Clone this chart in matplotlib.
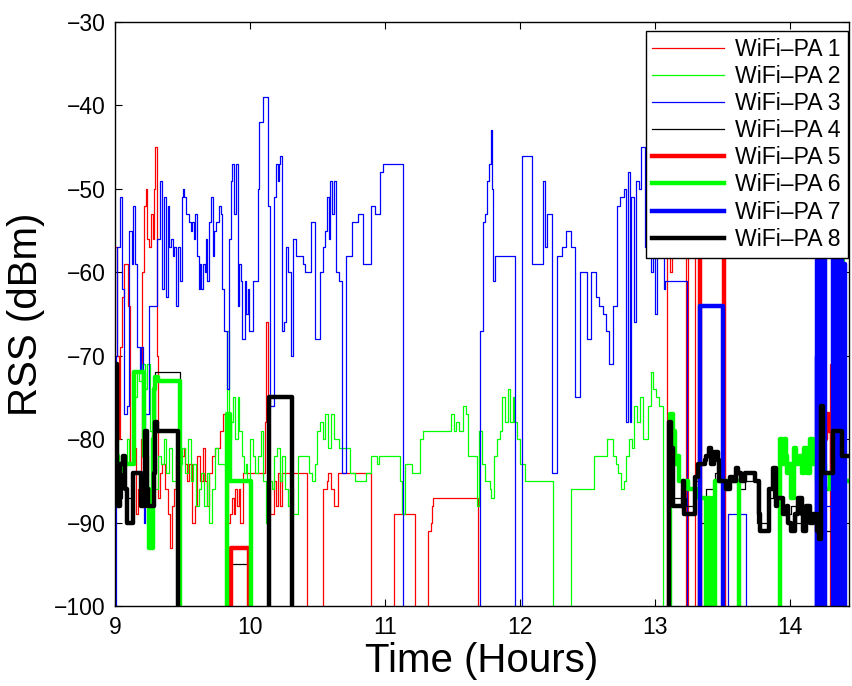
import matplotlib
matplotlib.use("Agg")
import matplotlib.pyplot as plt
import numpy as np

plt.rcParams['font.family'] = ['Liberation Sans', 'DejaVu Sans']

# (time in hours, RSS in dBm); -120 = no signal (below the axis)
pa1 = [(9.00, -57), (9.015, -70), (9.03, -80), (9.04, -69), (9.055, -63), (9.07, -59), (9.085, -59),
       (9.095, -64), (9.11, -83), (9.13, -83), (9.14, -81), (9.155, -89), (9.17, -86), (9.19, -80),
       (9.20, -60), (9.215, -52), (9.23, -50), (9.24, -56), (9.25, -57), (9.27, -53), (9.28, -56),
       (9.29, -50), (9.30, -45), (9.31, -70), (9.32, -87), (9.335, -84), (9.35, -83), (9.37, -86),
       (9.39, -89), (9.41, -93), (9.425, -88), (9.44, -86), (9.45, -82), (9.47, -84), (9.49, -82),
       (9.51, -81), (9.52, -83), (9.535, -85), (9.55, -83), (9.57, -90), (9.59, -88), (9.61, -82),
       (9.63, -85), (9.65, -81), (9.67, -85), (9.685, -88), (9.70, -84), (9.72, -82), (9.74, -81),
       (9.78, -79), (9.80, -77), (9.82, -83), (9.835, -90), (9.85, -89), (9.865, -87), (9.88, -89),
       (9.89, -86), (9.905, -88), (9.92, -86), (9.93, -90), (9.95, -84), (10.11, -78), (10.12, -66),
       (10.135, -86), (10.15, -89), (10.18, -85), (10.195, -88), (10.21, -84), (10.22, -88),
       (10.235, -84), (10.42, -120), (10.54, -86), (10.57, -85), (10.58, -84), (10.60, -86),
       (10.62, -88), (10.65, -84), (10.90, -120), (11.07, -89), (11.22, -120), (11.32, -91),
       (11.34, -90), (11.35, -88), (11.36, -87), (11.69, -120), (13.09, -56), (13.11, -60),
       (13.13, -57), (13.235, -120), (13.245, -56), (13.30, -120), (14.255, -62), (14.265, -120),
       (14.30, -71), (14.315, -120), (14.44, -120)]

pa2 = [(9.00, -85), (9.01, -79), (9.02, -83), (9.035, -86), (9.05, -83), (9.09, -80), (9.105, -83),
       (9.14, -75), (9.16, -72), (9.18, -73), (9.20, -71), (9.22, -74), (9.24, -71), (9.26, -79),
       (9.28, -84), (9.30, -86), (9.32, -82), (9.34, -83), (9.36, -80), (9.38, -84), (9.40, -81),
       (9.42, -85), (9.46, -81), (9.48, -83), (9.50, -81), (9.52, -84), (9.54, -80), (9.56, -85),
       (9.58, -83), (9.60, -88), (9.62, -86), (9.64, -84), (9.66, -88), (9.68, -84), (9.70, -90),
       (9.72, -86), (9.74, -81), (9.76, -83), (9.83, -67), (9.845, -80), (9.86, -78), (9.875, -75),
       (9.89, -80), (9.91, -75), (9.92, -79), (9.94, -82), (9.955, -84), (9.97, -83), (9.98, -85),
       (10.00, -80), (10.02, -82), (10.04, -84), (10.06, -82), (10.08, -79), (10.10, -85),
       (10.12, -90), (10.14, -85), (10.16, -86), (10.18, -82), (10.20, -81), (10.22, -85),
       (10.24, -82), (10.26, -86), (10.28, -88), (10.30, -86), (10.32, -89), (10.36, -82),
       (10.44, -84), (10.46, -85), (10.48, -83), (10.50, -79), (10.52, -78), (10.54, -80),
       (10.56, -77), (10.58, -81), (10.60, -77), (10.62, -80), (10.66, -81), (10.74, -84),
       (10.78, -85), (10.86, -84), (10.90, -82), (10.94, -83), (10.96, -82), (11.11, -85),
       (11.13, -89), (11.15, -83), (11.20, -84), (11.26, -80), (11.28, -79), (11.49, -77),
       (11.51, -79), (11.53, -78), (11.55, -79), (11.58, -76), (11.60, -77), (11.62, -82),
       (11.68, -88), (11.70, -79), (11.72, -83), (11.74, -85), (11.78, -86), (11.79, -87),
       (11.81, -82), (11.83, -80), (11.85, -79), (11.87, -75), (11.89, -78), (11.91, -74),
       (11.93, -78), (11.95, -75), (11.96, -78), (11.98, -80), (12.00, -83), (12.04, -85),
       (12.25, -120), (12.38, -86), (12.55, -82), (12.65, -80), (12.69, -82), (12.71, -83),
       (12.73, -84), (12.75, -86), (12.77, -85), (12.79, -82), (12.81, -80), (12.83, -81),
       (12.85, -76), (12.87, -78), (12.89, -75), (12.91, -80), (12.95, -76), (12.97, -72),
       (12.99, -74), (13.01, -75), (13.03, -76), (13.065, -120), (14.235, -57), (14.40, -85),
       (14.44, -85)]

pa3 = [(9.00, -120), (9.005, -70), (9.015, -57), (9.035, -51), (9.055, -62), (9.07, -77), (9.09, -76),
       (9.105, -55), (9.125, -59), (9.135, -52), (9.15, -59), (9.165, -69), (9.185, -72), (9.195, -69),
       (9.205, -72), (9.215, -90), (9.225, -77), (9.25, -64), (9.315, -56), (9.33, -49), (9.35, -62),
       (9.36, -51), (9.375, -63), (9.39, -52), (9.40, -57), (9.415, -56), (9.43, -58), (9.44, -57),
       (9.455, -64), (9.465, -57), (9.48, -61), (9.495, -51), (9.505, -50), (9.515, -51), (9.525, -53),
       (9.545, -54), (9.56, -55), (9.57, -54), (9.585, -56), (9.595, -53), (9.61, -58), (9.62, -62),
       (9.63, -59), (9.64, -62), (9.65, -59), (9.665, -60), (9.675, -56), (9.685, -61), (9.70, -54),
       (9.71, -51), (9.725, -58), (9.735, -55), (9.75, -54), (9.77, -52), (9.785, -53), (9.795, -62),
       (9.81, -67), (9.83, -74), (9.845, -56), (9.86, -49), (9.87, -47), (9.885, -53), (9.895, -47),
       (9.91, -64), (9.92, -59), (9.935, -61), (9.945, -68), (9.96, -61), (9.97, -65), (9.985, -62),
       (9.995, -67), (10.025, -61), (10.06, -50), (10.07, -42), (10.095, -39), (10.135, -52),
       (10.15, -76), (10.18, -51), (10.195, -47), (10.205, -49), (10.215, -47), (10.225, -46),
       (10.235, -67), (10.25, -66), (10.265, -57), (10.28, -60), (10.305, -70), (10.32, -56),
       (10.34, -58), (10.39, -59), (10.41, -60), (10.455, -54), (10.485, -68), (10.52, -60),
       (10.545, -57), (10.56, -55), (10.57, -51), (10.585, -56), (10.595, -49), (10.61, -53),
       (10.625, -49), (10.64, -60), (10.66, -61), (10.68, -84), (10.715, -58), (10.755, -54),
       (10.80, -53), (10.84, -59), (10.895, -52), (10.93, -53), (10.965, -48), (10.985, -47),
       (11.135, -120), (11.705, -67), (11.725, -54), (11.745, -53), (11.755, -49), (11.77, -47),
       (11.785, -43), (11.795, -50), (11.805, -61), (11.815, -58), (11.965, -120), (12.015, -46),
       (12.09, -59), (12.17, -49), (12.185, -57), (12.20, -53), (12.24, -84), (12.275, -58),
       (12.31, -57), (12.34, -55), (12.38, -57), (12.41, -75), (12.45, -60), (12.495, -68),
       (12.53, -60), (12.565, -63), (12.59, -64), (12.615, -65), (12.64, -67), (12.665, -71),
       (12.69, -64), (12.72, -52), (12.745, -51), (12.77, -50), (12.79, -78), (12.80, -48),
       (12.815, -78), (12.825, -51), (12.845, -66), (12.86, -49), (12.88, -50), (12.90, -45),
       (12.93, -57), (12.96, -57), (12.975, -60), (12.99, -56), (13.00, -65), (13.02, -56),
       (13.07, -62), (13.08, -61), (13.24, -120), (13.54, -89), (13.68, -120), (14.185, -70),
       (14.19, -120), (14.205, -55), (14.215, -120), (14.26, -88), (14.385, -120), (14.44, -120)]

pa4 = [(9.00, -72), (9.015, -84), (9.03, -87), (9.05, -84), (9.075, -86), (9.09, -87), (9.135, -84),
       (9.19, -87), (9.22, -80), (9.24, -87), (9.29, -84), (9.30, -72), (9.48, -120), (9.86, -95),
       (9.99, -120), (10.14, -75), (10.31, -120), (13.105, -79), (13.135, -87), (13.235, -88),
       (13.30, -85), (13.33, -90), (13.38, -86), (13.45, -84), (13.50, -86), (13.56, -85),
       (13.62, -86), (13.67, -85), (13.76, -90), (13.84, -87), (13.88, -85), (13.92, -88),
       (13.97, -89), (14.01, -88), (14.05, -90), (14.09, -88), (14.14, -90), (14.19, -89),
       (14.24, -80), (14.26, -91), (14.38, -120), (14.44, -120)]

pa5 = [(9.00, -120), (9.86, -93), (9.995, -120), (13.335, -52), (13.51, -120), (14.23, -67),
       (14.245, -80), (14.27, -77), (14.29, -79), (14.305, -78), (14.315, -85), (14.33, -120),
       (14.44, -120)]

pa6 = [(9.00, -82), (9.02, -83), (9.14, -72), (9.215, -82), (9.235, -86), (9.25, -93), (9.28, -80),
       (9.29, -74), (9.30, -72.5), (9.32, -73), (9.485, -120), (9.83, -77), (9.85, -85),
       (10.005, -120), (13.11, -77), (13.135, -79), (13.15, -83), (13.165, -82), (13.18, -85),
       (13.245, -86), (13.33, -87), (13.38, -120), (13.395, -87), (13.41, -120), (13.43, -87),
       (13.44, -120), (13.45, -85), (13.625, -120), (13.93, -80), (13.945, -83), (13.955, -80),
       (13.97, -82), (13.98, -84), (13.99, -83), (14.01, -87), (14.03, -81), (14.05, -83),
       (14.07, -82), (14.09, -84), (14.11, -81), (14.13, -84), (14.15, -80), (14.17, -83),
       (14.20, -85), (14.215, -58), (14.235, -83), (14.26, -86), (14.30, -84), (14.34, -85),
       (14.44, -85)]

pa7 = [(9.00, -120), (13.335, -64), (13.505, -120), (14.2, -56), (14.21, -120), (14.22, -55),
       (14.23, -120), (14.24, -57), (14.25, -120), (14.255, -58), (14.262, -120), (14.322, -56),
       (14.33, -120), (14.34, -57), (14.35, -120), (14.36, -58), (14.37, -120), (14.38, -57),
       (14.39, -120), (14.40, -59), (14.41, -120), (14.44, -120)]

pa8 = [(9.00, -71), (9.015, -84), (9.02, -88), (9.035, -83), (9.06, -82), (9.075, -86), (9.09, -90),
       (9.135, -84), (9.195, -88), (9.22, -79), (9.235, -86), (9.245, -88), (9.29, -84), (9.30, -78),
       (9.31, -79), (9.47, -120), (10.14, -75), (10.31, -120), (13.105, -78), (13.12, -81),
       (13.135, -88), (13.21, -85), (13.22, -89), (13.30, -84.5), (13.32, -83), (13.37, -82.5),
       (13.38, -82), (13.40, -81), (13.42, -83), (13.44, -81.5), (13.47, -82.5), (13.48, -85),
       (13.53, -86), (13.555, -84.5), (13.58, -85), (13.605, -83.5), (13.62, -84), (13.64, -85),
       (13.67, -84), (13.74, -85), (13.77, -89), (13.78, -91), (13.85, -86), (13.88, -83.5),
       (13.90, -88), (13.91, -87), (13.95, -89), (13.98, -88), (13.99, -90), (14.01, -91),
       (14.04, -89), (14.06, -87), (14.09, -89), (14.10, -91), (14.12, -88), (14.15, -90),
       (14.17, -89), (14.20, -91), (14.22, -92), (14.235, -76), (14.25, -84), (14.32, -79),
       (14.39, -82), (14.44, -82)]

series = [pa1, pa2, pa3, pa4, pa5, pa6, pa7, pa8]
labels = ["WiFi\u2013PA %d" % i for i in range(1, 9)]
colors = ['#ff0000', '#00ff00', '#0000ff', '#000000'] * 2
widths = [0.9] * 4 + [3.2] * 4

fig = plt.figure(figsize=(8.53, 6.86), dpi=100)
ax = fig.add_axes([0.1348, 0.1166, 0.8605, 0.8513])

for data, lab, c, lw in zip(series, labels, colors, widths):
    t, rss = np.array(data).T
    ax.plot(t, rss, drawstyle='steps-post', color=c, lw=lw, label=lab)

ax.set_xlim(9, 14.44)
ax.set_ylim(-100, -30)
ax.set_xticks(range(9, 15))
ax.set_yticks(range(-100, -29, 10))
ax.tick_params(direction='in', top=True, right=True, length=5, width=0.8, labelsize=16.5, pad=7)
for s in ax.spines.values():
    s.set_linewidth(1.0)

ax.set_xlabel("Time (Hours)", fontsize=29, labelpad=2)
ax.set_ylabel("RSS (dBm)", fontsize=29, labelpad=6)

leg = ax.legend(loc='upper right', bbox_to_anchor=(0.9986, 0.985), borderaxespad=0,
                fontsize=16.6, fancybox=False, framealpha=1, edgecolor='black',
                handlelength=3.1, labelspacing=0.18, handletextpad=0.5, borderpad=0.3)
leg.get_frame().set_linewidth(1.0)

fig.savefig("out.png", dpi=100)
